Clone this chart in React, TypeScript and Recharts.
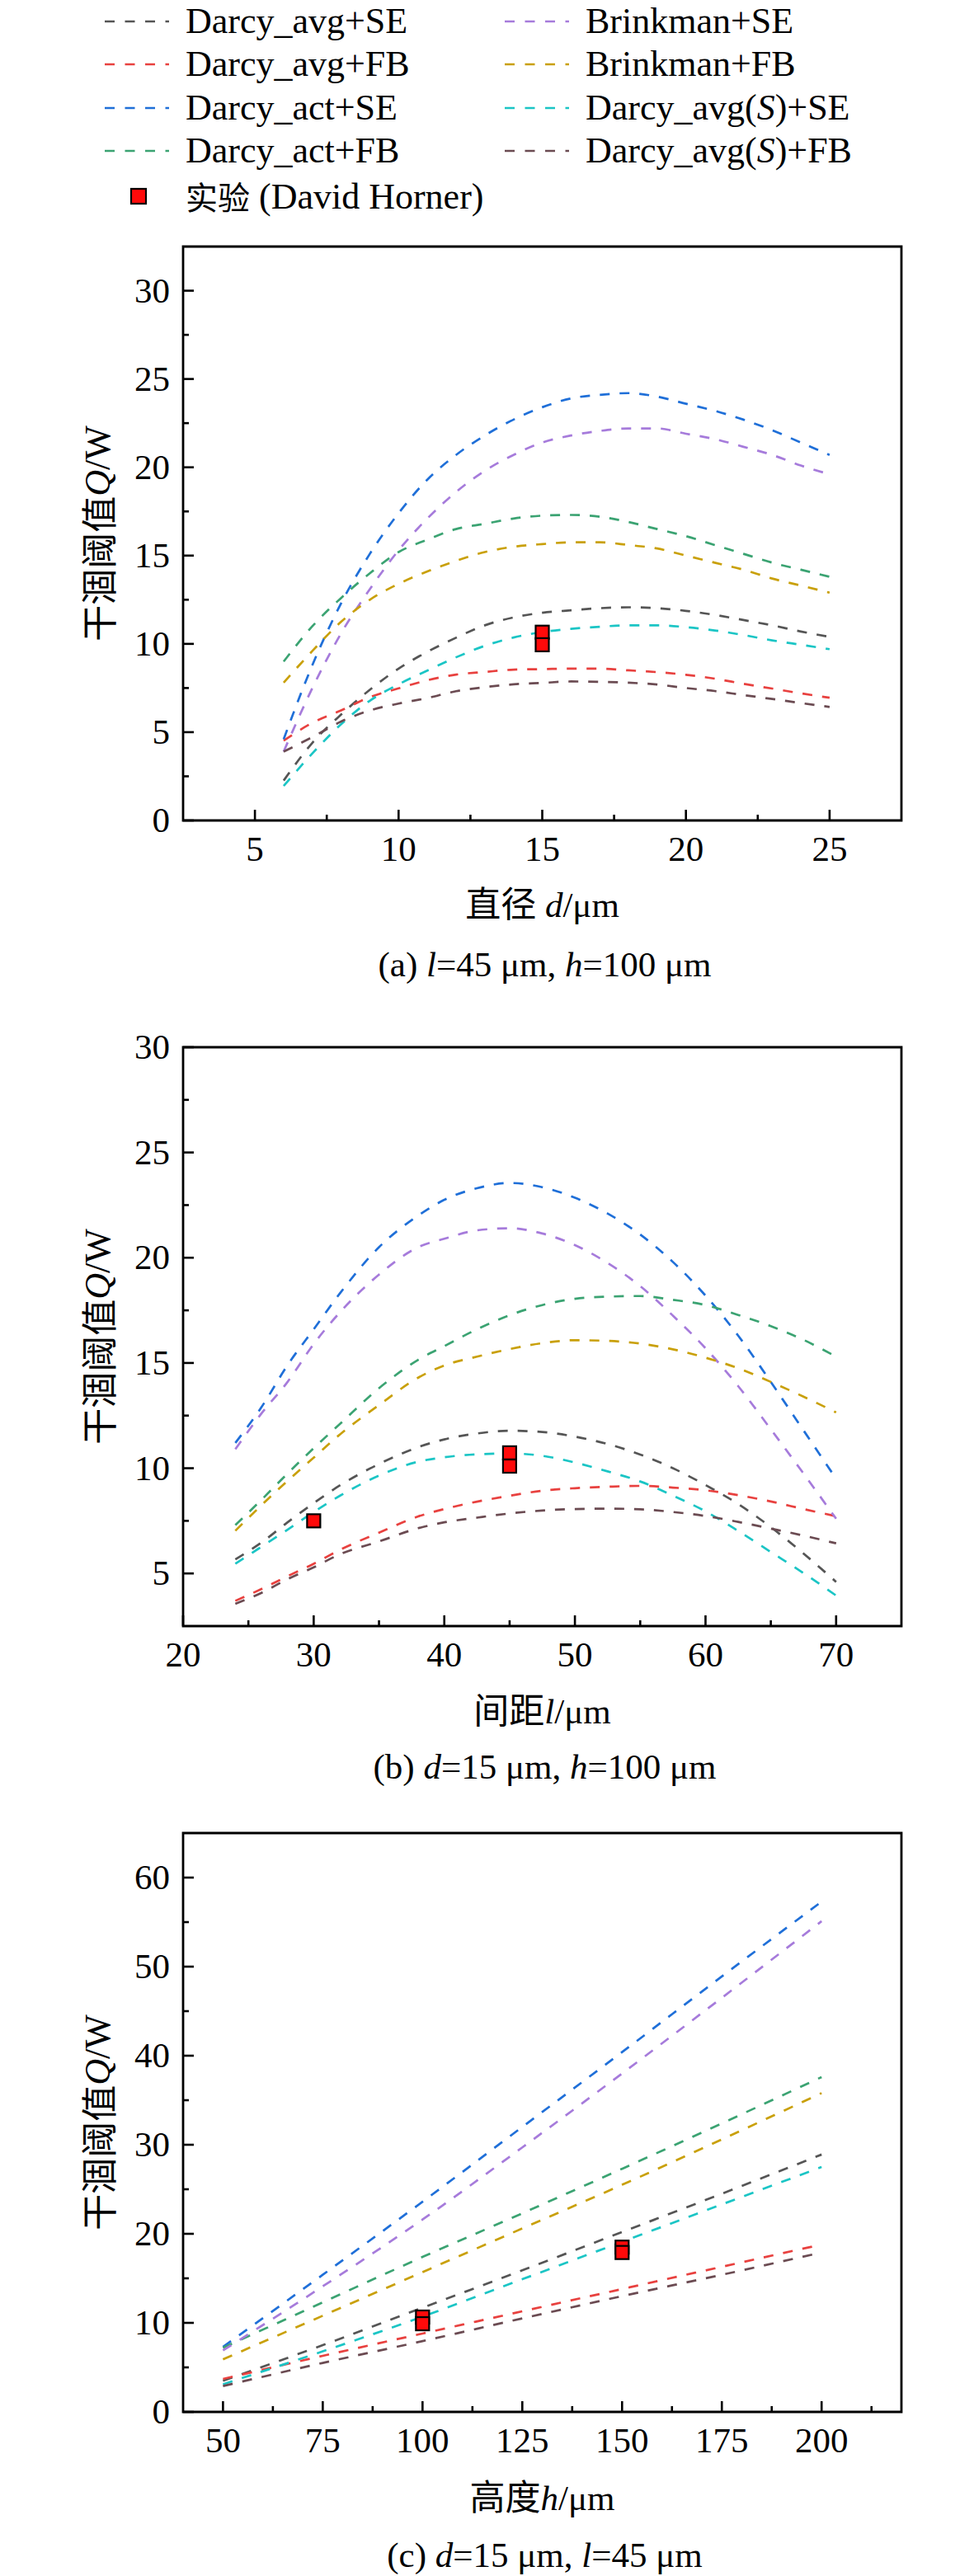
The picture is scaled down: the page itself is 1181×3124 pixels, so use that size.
import React from 'react';
import { ComposedChart, Line, Scatter, XAxis, YAxis, ReferenceArea, Label } from 'recharts';

const SERIF = "'Liberation Serif', 'Times New Roman', serif";
const CJK = "'Noto Sans CJK SC', 'Noto Sans CJK JP', sans-serif";
const FONT = "'Liberation Serif', 'Times New Roman', 'Noto Sans CJK SC', serif";

const seriesNames = [
  'Darcy_avg+SE',
  'Darcy_avg+FB',
  'Darcy_act+SE',
  'Darcy_act+FB',
  'Brinkman+SE',
  'Brinkman+FB',
  'Darcy_avg(S)+SE',
  'Darcy_avg(S)+FB',
];
const seriesColors = ['#555555', '#E8413F', '#1F6FD8', '#3BA372', '#A67BDB', '#C9A009', '#1BC5C5', '#6B4B52'];
const markerLabelCn = '实验';
const markerLabelEn = '(David Horner)';

// ---------- Panel (a): diameter d ----------
const xA = [6, 7, 8, 9, 10, 11, 12, 13, 14, 15, 16, 17, 18, 19, 20, 21, 22, 23, 24, 25];
const aAvgSE = [2.26, 4.4, 6.0, 7.4, 8.6, 9.55, 10.35, 11.05, 11.5, 11.76, 11.9, 12.02, 12.07, 12.02, 11.87, 11.64, 11.35, 11.05, 10.7, 10.4];
const aAvgFB = [4.52, 5.53, 6.23, 6.98, 7.48, 7.94, 8.26, 8.41, 8.54, 8.57, 8.6, 8.6, 8.5, 8.4, 8.25, 8.03, 7.74, 7.47, 7.2, 6.95];
const aActSE = [4.6, 8.8, 12.3, 15.1, 17.4, 19.3, 20.7, 21.8, 22.7, 23.4, 23.9, 24.1, 24.2, 24.0, 23.6, 23.2, 22.7, 22.1, 21.4, 20.7];
const aActFB = [9.0, 11.0, 12.6, 14.0, 15.2, 15.9, 16.5, 16.8, 17.1, 17.26, 17.3, 17.2, 16.9, 16.5, 16.1, 15.6, 15.1, 14.6, 14.2, 13.8];
const aBrSE = [3.9, 7.5, 10.6, 13.1, 15.3, 17.1, 18.6, 19.8, 20.7, 21.4, 21.8, 22.06, 22.2, 22.2, 21.9, 21.6, 21.16, 20.7, 20.1, 19.6];
const aBrFB = [7.8, 9.6, 11.25, 12.5, 13.4, 14.1, 14.7, 15.2, 15.5, 15.65, 15.75, 15.75, 15.6, 15.4, 15.0, 14.6, 14.2, 13.7, 13.3, 12.9];
const aAvgSSE = [1.95, 3.8, 5.45, 6.78, 7.71, 8.49, 9.24, 9.89, 10.36, 10.67, 10.85, 10.97, 11.05, 11.05, 10.95, 10.76, 10.5, 10.2, 9.95, 9.7];
const aAvgSFB = [3.9, 4.72, 5.6, 6.23, 6.62, 6.93, 7.32, 7.55, 7.71, 7.79, 7.87, 7.85, 7.8, 7.7, 7.5, 7.33, 7.1, 6.88, 6.65, 6.43];
const expA = [
  { x: 15, y: 10.66 },
  { x: 15, y: 9.95 },
];
const aXMajor = [5, 10, 15, 20, 25];
const aXMinor = [7.5, 12.5, 17.5, 22.5];
const aYMajor = [0, 5, 10, 15, 20, 25, 30];
const aYMinor = [2.5, 7.5, 12.5, 17.5, 22.5, 27.5];

// ---------- Panel (b): spacing l ----------
const xB = [24, 26, 28, 30, 32, 35, 38, 40, 42.5, 45, 47.5, 50, 52.5, 55, 57.5, 60, 62.5, 65, 67.5, 70];
const bAvgSE = [5.67, 6.47, 7.43, 8.34, 9.18, 10.2, 11.0, 11.37, 11.65, 11.78, 11.72, 11.5, 11.15, 10.65, 10.0, 9.2, 8.3, 7.2, 5.95, 4.6];
const bAvgFB = [3.7, 4.26, 4.87, 5.46, 6.12, 6.94, 7.71, 8.06, 8.41, 8.69, 8.93, 9.05, 9.12, 9.16, 9.08, 8.95, 8.72, 8.42, 8.06, 7.72];
const bActSE = [11.2, 12.9, 14.9, 16.6, 18.3, 20.5, 22.0, 22.75, 23.3, 23.55, 23.35, 22.85, 22.1, 21.1, 19.8, 18.2, 16.3, 14.1, 11.8, 9.5];
const bActFB = [7.3, 8.5, 9.75, 10.95, 12.1, 13.8, 15.15, 15.8, 16.6, 17.27, 17.75, 18.05, 18.15, 18.18, 18.0, 17.75, 17.28, 16.75, 16.1, 15.3];
const bBrSE = [10.9, 12.6, 14.1, 15.9, 17.4, 19.2, 20.5, 20.9, 21.3, 21.4, 21.15, 20.6, 19.75, 18.65, 17.25, 15.7, 13.9, 11.85, 9.75, 7.6];
const bBrFB = [7.03, 8.24, 9.4, 10.5, 11.6, 13.0, 14.3, 14.88, 15.3, 15.66, 15.94, 16.08, 16.05, 15.92, 15.65, 15.25, 14.75, 14.1, 13.4, 12.65];
const bAvgSSE = [5.46, 6.27, 7.08, 7.92, 8.69, 9.65, 10.31, 10.52, 10.66, 10.7, 10.59, 10.27, 9.85, 9.37, 8.7, 7.95, 7.02, 6.02, 5.02, 3.95];
const bAvgSFB = [3.56, 4.08, 4.73, 5.29, 5.91, 6.52, 7.15, 7.43, 7.65, 7.85, 7.99, 8.06, 8.08, 8.05, 7.92, 7.73, 7.45, 7.13, 6.8, 6.43];
const expB = [
  { x: 30, y: 7.5 },
  { x: 45, y: 10.73 },
  { x: 45, y: 10.1 },
];
const bXMajor = [20, 30, 40, 50, 60, 70];
const bXMinor = [25, 35, 45, 55, 65];
const bYMajor = [5, 10, 15, 20, 25, 30];
const bYMinor = [7.5, 12.5, 17.5, 22.5, 27.5];

// ---------- Panel (c): height h ----------
const xC = [50, 75, 100, 125, 150, 175, 200];
const cAvgSE = [3.5, 7.5, 11.7, 15.9, 20.2, 24.5, 28.9];
const cAvgFB = [3.7, 6.3, 8.8, 11.3, 13.8, 16.3, 18.8];
const cActSE = [7.3, 15.4, 23.6, 32.0, 40.4, 48.9, 57.3];
const cActFB = [7.2, 12.3, 17.4, 22.3, 27.3, 32.4, 37.6];
const cBrSE = [6.9, 14.1, 21.6, 29.7, 38.0, 46.5, 55.1];
const cBrFB = [5.9, 10.8, 15.7, 20.6, 25.5, 30.6, 35.8];
const cAvgSSE = [3.1, 6.8, 10.7, 14.9, 19.1, 23.3, 27.5];
const cAvgSFB = [2.9, 5.5, 7.95, 10.5, 13.0, 15.4, 17.9];
const expC = [
  { x: 100, y: 10.65 },
  { x: 100, y: 9.9 },
  { x: 150, y: 18.5 },
  { x: 150, y: 17.9 },
];
const cXMajor = [50, 75, 100, 125, 150, 175, 200];
const cXMinor = [62.5, 87.5, 112.5, 137.5, 162.5, 187.5, 212.5];
const cYMajor = [0, 10, 20, 30, 40, 50, 60];
const cYMinor = [5, 15, 25, 35, 45, 55];

const buildTable = (xs: number[], cols: number[][]) =>
  xs.map((x, i) => {
    const row: any = { x };
    cols.forEach((c, k) => {
      row['s' + k] = c[i];
    });
    return row;
  });

const tableA = buildTable(xA, [aAvgSE, aAvgFB, aActSE, aActFB, aBrSE, aBrFB, aAvgSSE, aAvgSFB]);
const tableB = buildTable(xB, [bAvgSE, bAvgFB, bActSE, bActFB, bBrSE, bBrFB, bAvgSSE, bAvgSFB]);
const tableC = buildTable(xC, [cAvgSE, cAvgFB, cActSE, cActFB, cBrSE, cBrFB, cAvgSSE, cAvgSFB]);

const isIn = (v: number, arr: number[]) => arr.some((a) => Math.abs(a - v) < 1e-6);

const makeXTick = (majors: number[]) => (props: any) => {
  const { x, y, payload } = props;
  const v = payload.value;
  const major = isIn(v, majors);
  return (
    <g>
      <line x1={x} x2={x} y1={y} y2={y - (major ? 13 : 7)} stroke="#000" strokeWidth={2.6} />
      {major && (
        <text x={x} y={y + 49} textAnchor="middle" fontSize={43} fontFamily={SERIF} fill="#000">
          {v}
        </text>
      )}
    </g>
  );
};

const makeYTick = (majors: number[]) => (props: any) => {
  const { x, y, payload } = props;
  const v = payload.value;
  const major = isIn(v, majors);
  return (
    <g>
      <line x1={x} x2={x + (major ? 13 : 7)} y1={y} y2={y} stroke="#000" strokeWidth={2.6} />
      {major && (
        <text x={x - 16} y={y + 14} textAnchor="end" fontSize={43} fontFamily={SERIF} fill="#000">
          {v}
        </text>
      )}
    </g>
  );
};

const YTitle = (props: any) => {
  const vb = props.viewBox || {};
  const cy = vb.y + vb.height / 2;
  return (
    <text
      transform={`translate(118, ${cy}) rotate(-90)`}
      textAnchor="middle"
      dominantBaseline="central"
      fontSize={44}
      fill="#000"
    >
      <tspan fontFamily={CJK}>干涸阈值</tspan>
      <tspan fontFamily={SERIF} fontStyle="italic">Q</tspan>
      <tspan fontFamily={SERIF}>/W</tspan>
    </text>
  );
};

const makeXTitle = (title: React.ReactNode, caption: React.ReactNode, tOff: number, cOff: number) => (props: any) => {
  const vb = props.viewBox || {};
  const cx = vb.x + vb.width / 2;
  return (
    <g>
      <text x={cx} y={vb.y + tOff + 15} textAnchor="middle" fontSize={43} fontFamily={FONT} fill="#000">
        {title}
      </text>
      <text x={cx + 3} y={vb.y + cOff + 13} textAnchor="middle" fontSize={43} fontFamily={SERIF} fill="#000">
        {caption}
      </text>
    </g>
  );
};

const SquareShape = (props: any) => {
  const { cx, cy } = props;
  if (cx == null || cy == null) return null;
  return <rect x={cx - 8} y={cy - 8} width={16} height={16} fill="#FF0A0A" stroke="#000" strokeWidth={2.2} />;
};

type PanelProps = {
  top: number;
  height: number;
  marginTop: number;
  axisHeight: number;
  table: any[];
  markers: { x: number; y: number }[];
  xDomain: [number, number];
  yDomain: [number, number];
  xMajor: number[];
  xMinor: number[];
  yMajor: number[];
  yMinor: number[];
  title: React.ReactNode;
  caption: React.ReactNode;
  tOff: number;
  cOff: number;
};

function Panel(p: PanelProps) {
  const xTicks = [...p.xMajor, ...p.xMinor].sort((a, b) => a - b);
  const yTicks = [...p.yMajor, ...p.yMinor].sort((a, b) => a - b);
  return (
    <div style={{ position: 'absolute', left: 0, top: p.top, width: 1181, height: p.height }}>
      <ComposedChart
        width={1181}
        height={p.height}
        data={p.table}
        margin={{ top: p.marginTop, right: 88, bottom: 0, left: 0 }}
      >
        <XAxis
          dataKey="x"
          type="number"
          domain={p.xDomain}
          allowDataOverflow
          ticks={xTicks}
          interval={0}
          tick={makeXTick(p.xMajor)}
          tickLine={false}
          tickSize={0}
          tickMargin={0}
          axisLine={false}
          height={p.axisHeight}
        >
          <Label content={makeXTitle(p.title, p.caption, p.tOff, p.cOff)} />
        </XAxis>
        <YAxis
          type="number"
          domain={p.yDomain}
          allowDataOverflow
          ticks={yTicks}
          interval={0}
          tick={makeYTick(p.yMajor)}
          tickLine={false}
          tickSize={0}
          tickMargin={0}
          axisLine={false}
          width={222}
        >
          <Label content={YTitle} />
        </YAxis>
        <ReferenceArea
          x1={p.xDomain[0]}
          x2={p.xDomain[1]}
          y1={p.yDomain[0]}
          y2={p.yDomain[1]}
          fill="none"
          fillOpacity={0}
          stroke="#000"
          strokeWidth={2.8}
          ifOverflow="visible"
        />
        {seriesNames.map((n, k) => (
          <Line
            key={n}
            name={n}
            dataKey={'s' + k}
            type="monotone"
            stroke={seriesColors[k]}
            strokeWidth={2.7}
            strokeDasharray="12 12"
            dot={false}
            activeDot={false}
            isAnimationActive={false}
          />
        ))}
        <Scatter data={p.markers} dataKey="y" shape={SquareShape} isAnimationActive={false} />
      </ComposedChart>
    </div>
  );
}

const renderName = (n: string) => {
  if (n.includes('(S)')) {
    const [a, b] = n.split('(S)');
    return (
      <>
        {a}(<tspan fontStyle="italic">S</tspan>){b}
      </>
    );
  }
  return n;
};

function LegendBlock() {
  const rowsY = [26, 78, 131, 183];
  const cols = [
    { lx: 127, tx: 225 },
    { lx: 612, tx: 710 },
  ];
  return (
    <svg width={1181} height={285} style={{ position: 'absolute', left: 0, top: 0 }}>
      {seriesNames.map((n, k) => {
        const col = cols[k < 4 ? 0 : 1];
        const y = rowsY[k % 4];
        return (
          <g key={n}>
            <line
              x1={col.lx}
              x2={col.lx + 78}
              y1={y}
              y2={y}
              stroke={seriesColors[k]}
              strokeWidth={2.6}
              strokeDasharray="12 12.5"
            />
            <text x={col.tx} y={y + 14} fontSize={44} fontFamily={SERIF} fill="#000">
              {renderName(n)}
            </text>
          </g>
        );
      })}
      <rect x={159} y={229} width={18} height={18} fill="#FF0A0A" stroke="#000" strokeWidth={2.2} />
      <text x={225} y={254} fontSize={39} fontFamily={CJK} fill="#000">
        {markerLabelCn}
      </text>
      <text x={314} y={253} fontSize={44} fontFamily={SERIF} fill="#000">
        {markerLabelEn}
      </text>
    </svg>
  );
}

export default function App() {
  return (
    <div style={{ position: 'absolute', left: 0, top: 0, width: 1181, height: 3124, background: '#fff' }}>
      <LegendBlock />
      <Panel
        top={260}
        height={950}
        marginTop={39}
        axisHeight={215}
        table={tableA}
        markers={expA}
        xDomain={[2.5, 27.5]}
        yDomain={[0, 32.5]}
        xMajor={aXMajor}
        xMinor={aXMinor}
        yMajor={aYMajor}
        yMinor={aYMinor}
        title={<><tspan fontFamily={CJK}>直径</tspan><tspan fontFamily={SERIF}> </tspan><tspan fontFamily={SERIF} fontStyle="italic">d</tspan><tspan fontFamily={SERIF}>/μm</tspan></>}
        caption={<>(a) <tspan fontStyle="italic">l</tspan>=45 μm, <tspan fontStyle="italic">h</tspan>=100 μm</>}
        tOff={102}
        cOff={176}
      />
      <Panel
        top={1215}
        height={960}
        marginTop={55}
        axisHeight={203}
        table={tableB}
        markers={expB}
        xDomain={[20, 75]}
        yDomain={[2.5, 30]}
        xMajor={bXMajor}
        xMinor={bXMinor}
        yMajor={bYMajor}
        yMinor={bYMinor}
        title={<><tspan fontFamily={CJK}>间距</tspan><tspan fontFamily={SERIF} fontStyle="italic">l</tspan><tspan fontFamily={SERIF}>/μm</tspan></>}
        caption={<>(b) <tspan fontStyle="italic">d</tspan>=15 μm, <tspan fontStyle="italic">h</tspan>=100 μm</>}
        tOff={103}
        cOff={172}
      />
      <Panel
        top={2175}
        height={949}
        marginTop={48}
        axisHeight={199}
        table={tableC}
        markers={expC}
        xDomain={[40, 220]}
        yDomain={[0, 65]}
        xMajor={cXMajor}
        xMinor={cXMinor}
        yMajor={cYMajor}
        yMinor={cYMinor}
        title={<><tspan fontFamily={CJK}>高度</tspan><tspan fontFamily={SERIF} fontStyle="italic">h</tspan><tspan fontFamily={SERIF}>/μm</tspan></>}
        caption={<>(c) <tspan fontStyle="italic">d</tspan>=15 μm, <tspan fontStyle="italic">l</tspan>=45 μm</>}
        tOff={104}
        cOff={175}
      />
    </div>
  );
}
